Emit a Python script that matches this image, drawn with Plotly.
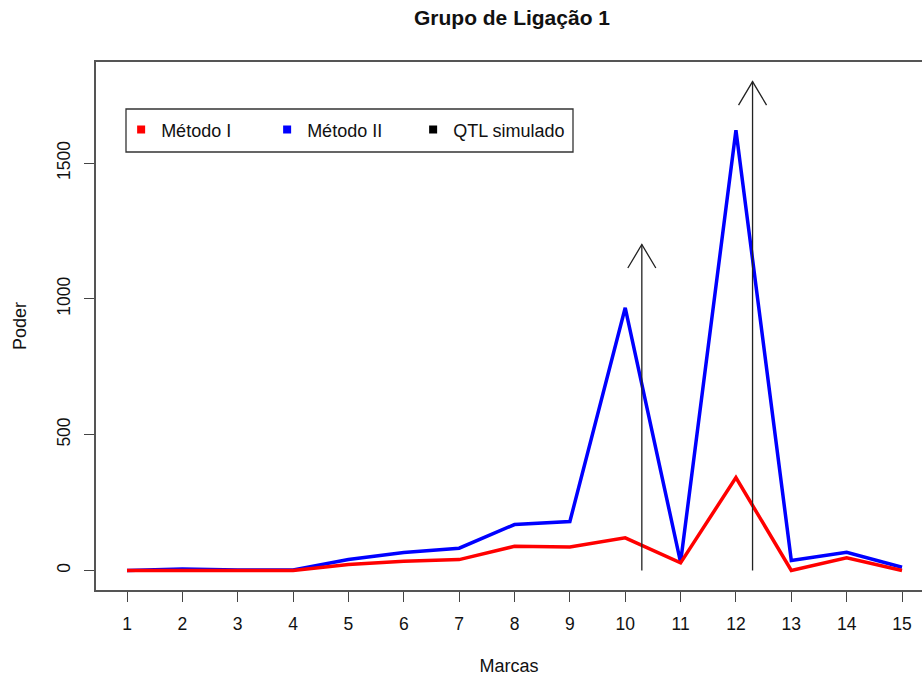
import plotly.graph_objects as go

# ---- data ----
marcas = list(range(1, 16))
metodo_I = [0, 0, 0, 0, 22, 34, 40, 89, 86, 120, 28, 342, 0, 47, 0]
metodo_II = [0, 5, 2, 2, 40, 66, 82, 169, 180, 967, 30, 1621, 37, 67, 12]
qtl_pos = [10.3, 12.3]
qtl_height = [1200, 1800]
y_ticks = [0, 500, 1000, 1500]

# ---- layout geometry (style) ----
W, H = 922, 678
ML, MR, MT, MB = 96, 0, 62, 88
x_range = [0.44, 15.361]
y_range = [-72, 1872]
px_per_x = (W - ML - MR) / (x_range[1] - x_range[0])
px_per_y = (H - MT - MB) / (y_range[1] - y_range[0])
head_dx = 14 / px_per_x
head_dy = 23.5 / px_per_y

FONT = "Liberation Sans, Arial, sans-serif"
RED = "#ff0000"
BLUE = "#0000ff"

fig = go.Figure()

fig.add_trace(go.Scatter(x=marcas, y=metodo_II, mode="lines",
                         line=dict(color=BLUE, width=3.5), showlegend=False,
                         name="Método II"))
fig.add_trace(go.Scatter(x=marcas, y=metodo_I, mode="lines",
                         line=dict(color=RED, width=3.5), showlegend=False,
                         name="Método I"))

# arrows (shaft + open head) built from QTL data
ax, ay = [], []
for xp, h in zip(qtl_pos, qtl_height):
    ax += [xp, xp, None, xp - head_dx, xp, xp + head_dx, None]
    ay += [0, h, None, h - head_dy, h, h - head_dy, None]
fig.add_trace(go.Scatter(x=ax, y=ay, mode="lines",
                         line=dict(color="#222222", width=1.3),
                         showlegend=False, name="QTL simulado"))

# legend entries (square symbols)
for name, col in [("Método I", RED), ("Método II", BLUE), ("QTL simulado", "#000000")]:
    fig.add_trace(go.Scatter(x=[None], y=[None], mode="markers", name=name,
                             marker=dict(symbol="square", size=8, color=col)))
# invisible spacer entry so the last legend label is not clipped
fig.add_trace(go.Scatter(x=[None], y=[None], mode="markers", name=" ",
                         marker=dict(symbol="square", size=1, color="rgba(0,0,0,0)"),
                         hoverinfo="skip"))

PW = W - ML - MR
PH = H - MT - MB

# legend box
fig.add_shape(type="rect", xref="paper", yref="paper",
              x0=(126 - ML) / PW, x1=(573 - ML) / PW,
              y0=1 - (152 - MT) / PH, y1=1 - (109 - MT) / PH,
              line=dict(color="#333333", width=1.3), fillcolor="rgba(0,0,0,0)")

axis_common = dict(showgrid=False, zeroline=False, showline=True,
                   linecolor="#555555", linewidth=1.5,
                   ticks="outside", ticklen=10, tickwidth=1.2, tickcolor="#444444",
                   tickfont=dict(family=FONT, size=17.5, color="#111111"))

fig.update_layout(
    width=W, height=H,
    margin=dict(l=ML, r=MR, t=MT, b=MB),
    paper_bgcolor="white", plot_bgcolor="white",
    font=dict(family=FONT, color="#111111"),
    title=dict(text="<b>Grupo de Ligação 1</b>", xref="container", yref="container",
               x=512 / W, y=1 - 18 / H, xanchor="center", yanchor="middle",
               font=dict(family=FONT, size=21, color="#111111")),
    xaxis=dict(range=x_range, tickvals=marcas, ticktext=[str(m) for m in marcas],
               mirror=True, ticklabelstandoff=7,
               title=dict(text="Marcas", standoff=27,
                          font=dict(family=FONT, size=18, color="#111111")),
               **axis_common),
    yaxis=dict(range=y_range, tickvals=y_ticks, ticktext=[str(v) for v in y_ticks],
               tickangle=-90, mirror=False, ticklabelstandoff=7,
               title=dict(text="Poder", standoff=23,
                          font=dict(family=FONT, size=18, color="#111111")),
               **axis_common),
    legend=dict(orientation="h", x=(117 - ML) / PW + 0.005,
                y=1 - (106 - MT) / PH - 0.01, xanchor="left", yanchor="top",
                bgcolor="rgba(0,0,0,0)", borderwidth=0,
                font=dict(family=FONT, size=18, color="#111111"),
                entrywidth=101, entrywidthmode="pixels", itemwidth=30),
)

fig.write_html("out.html")
